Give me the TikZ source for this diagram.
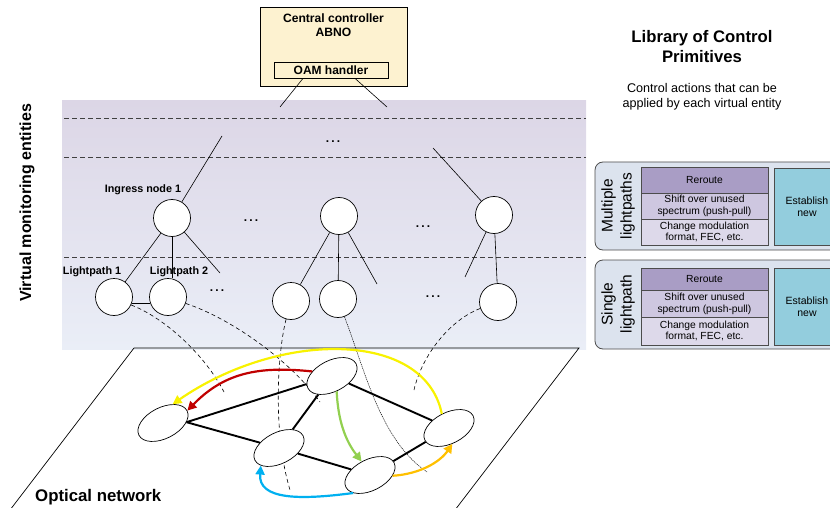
\documentclass[tikz,border=0pt]{standalone}
\usepackage{fontspec}
\setmainfont{Liberation Sans}
\usetikzlibrary{shapes.geometric,arrows.meta,calc}
\definecolor{ctrlfill}{HTML}{FDF2D0}
\definecolor{bandtop}{HTML}{DCD6E6}
\definecolor{bandbot}{HTML}{EAEEF7}
\definecolor{groupfill}{HTML}{DCE3EE}
\definecolor{rowA}{HTML}{A99DC5}
\definecolor{rowB}{HTML}{CEC7E0}
\definecolor{rowC}{HTML}{DDD9EA}
\definecolor{estfill}{HTML}{93CDDD}
\definecolor{flowyellow}{HTML}{F8F200}
\definecolor{flowred}{HTML}{C00000}
\definecolor{flowgreen}{HTML}{92D050}
\definecolor{flowblue}{HTML}{00B0F0}
\definecolor{floworange}{HTML}{FFC000}
\newcommand{\tridots}{.\hspace{2.2pt}.\hspace{2.2pt}.}
\tikzset{
  treenode/.style={circle, draw, fill=white, minimum size=37pt, inner sep=0pt, line width=0.7pt},
  netnode/.style={ellipse, draw, fill=white, minimum width=54pt, minimum height=31pt, inner sep=0pt, rotate=27, line width=0.7pt},
  treeline/.style={line width=0.6pt},
  hdash/.style={draw=black!75, line width=0.8pt, dash pattern=on 5pt off 3pt},
  vdash/.style={line width=0.6pt, dash pattern=on 4pt off 3pt},
  finedash/.style={line width=0.5pt, dash pattern=on 1.2pt off 0.8pt},
  netlink/.style={line width=1.9pt},
  flow/.style={line width=2.2pt, -{Triangle[length=9pt,width=9pt]}},
  lbl/.style={font=\bfseries\fontsize{10.8}{12}\selectfont, inner sep=0pt},
  dotstxt/.style={font=\bfseries\fontsize{12}{13}\selectfont, inner sep=0pt},
  groupbox/.style={draw=black!70, fill=groupfill, rounded corners=8pt, line width=0.8pt},
  rowbox/.style={draw=black!70, line width=0.6pt, minimum width=127pt, inner sep=0pt, align=center, font=\fontsize{10.3}{11.8}\selectfont},
  estbox/.style={draw=black!70, fill=estfill, line width=0.6pt, minimum width=66pt, inner sep=0pt, align=center, font=\fontsize{10.5}{12}\selectfont},
  grouplbl/.style={rotate=90, align=center, font=\fontsize{15.5}{19}\selectfont, inner sep=0pt}
}
\begin{document}
\begin{tikzpicture}[x=1pt,y=-1pt]
\path[use as bounding box] (0,0) rectangle (830,508);
\clip (0,0) rectangle (830,508);

% band of virtual monitoring entities
\path[top color=bandtop, bottom color=bandbot] (62,101) rectangle (586,349);
\foreach \yy in {118,157,257} \draw[hdash] (64,\yy) -- (586,\yy);

% central controller
\node[draw, fill=ctrlfill, minimum width=147pt, minimum height=79pt, inner sep=0pt, line width=0.8pt] (ctrl) at (333.5,47) {};
\node[font=\bfseries\fontsize{12.1}{14.5}\selectfont, align=center, inner sep=0pt] (ctrltxt) at (333.5,25) {Central controller\\ABNO};
\node[draw, fill=ctrlfill, minimum width=114pt, minimum height=16pt, inner sep=0pt, line width=0.8pt, font=\bfseries\fontsize{12}{13}\selectfont] (oam) at (331,70) {OAM handler};
\coordinate (oamL) at (280,107);
\coordinate (oamR) at (387,107);
\draw[treeline] ($(oam.south)+(-28,0)$) -- (oamL);
\draw[treeline] ($(oam.south)+(24,0)$) -- (oamR);

% tree nodes
\node[treenode] (ing) at (172,218) {};
\node[treenode] (mid) at (339,216) {};
\node[treenode] (rgt) at (494,215) {};
\node[treenode] (lp1) at (114,297) {};
\node[treenode] (lp2) at (168,297) {};
\node[treenode] (lpa) at (291,301) {};
\node[treenode] (lpb) at (338,299) {};
\node[treenode] (lpc) at (498,302) {};

\coordinate (ingup) at (222,136);
\coordinate (ingfree) at (220,273);
\coordinate (midfree) at (377,284);
\coordinate (rgtup) at (433,148);
\coordinate (rgtfree) at (465,277);
\draw[treeline] (ing) -- (ingup);
\draw[treeline] (ing) -- (lp1);
\draw[treeline] (ing.south) -- (ing.south |- lp2.north);
\draw[treeline] (ing) -- (ingfree);
\draw[treeline] (lp1.-20) -- (lp2.200);
\draw[treeline] (mid) -- (lpa);
\draw[treeline] (mid) -- (lpb);
\draw[treeline] (mid) -- (midfree);
\draw[treeline] (rgt) -- (rgtup);
\draw[treeline] (rgt) -- (rgtfree);
\draw[treeline] (rgt) -- (lpc);

% labels in band
\node[lbl] (inglbl) at (143,190) {Ingress node 1};
\node[lbl] (lp1lbl) at (92,272) {Lightpath 1};
\node[lbl] (lp2lbl) at (179,272) {Lightpath 2};
\node[dotstxt] (dA) at (333,142) {\tridots};
\node[dotstxt] (dB) at (251,221) {\tridots};
\node[dotstxt] (dC) at (423,227) {\tridots};
\node[dotstxt] (dD) at (217,291) {\tridots};
\node[dotstxt] (dE) at (433,297) {\tridots};

% optical network plane
\draw[line width=0.7pt] (10,510) -- (134,348) -- (579,348) -- (455,510);

% mapping curves
\coordinate (e1) at (224,392);
\coordinate (e2) at (320,402);
\coordinate (e3) at (290,490);
\coordinate (e4) at (427,472);
\coordinate (e5) at (414,390);
\draw[vdash] (lp1.-25) .. controls (165,318) and (205,355) .. (e1);
\draw[vdash] (lp2.-20) .. controls (230,318) and (290,360) .. (e2);
\draw[vdash] (lpa.-105) .. controls (278,350) and (272,430) .. (e3);
\draw[finedash] (lpb.-70) .. controls (365,370) and (380,440) .. (e4);
\draw[vdash] (lpc.200) .. controls (450,320) and (422,355) .. (e5);

% network nodes
\node[netnode] (n1) at (163,423) {};
\node[netnode] (n2) at (332,376) {};
\node[netnode] (n3) at (279,448) {};
\node[netnode] (n4) at (370,475) {};
\node[netnode] (n5) at (449,428) {};

\draw[netlink] (n1.-25) -- (n2);
\draw[netlink] (n1.-25) -- (n3);
\draw[netlink] (n2) -- (n3);
\draw[netlink] (n2) -- (n5);
\draw[netlink] (n3) -- (n4);
\draw[netlink] (n4) -- (n5);

% flows
\draw[flow, flowyellow] (n5.north) .. controls (425,330) and (280,330) .. (n1.36);
\draw[flow, flowred] (n2.140) .. controls (260,366) and (225,372) .. (n1.east);
\draw[flow, flowgreen] (n2.-100) .. controls (338,420) and (345,440) .. (n4.95);
\draw[flow, flowblue] (n4.200) .. controls (300,500) and (258,500) .. (n3.197);
\draw[flow, floworange] (n4.-29) .. controls (420,474) and (440,462) .. (n5.-105);

% side labels
\node[rotate=90, font=\bfseries\fontsize{16}{18}\selectfont, inner sep=0pt] (vme) at (27,203) {Virtual monitoring entities};
\node[anchor=west, font=\bfseries\fontsize{16.8}{18}\selectfont, inner sep=0pt] (optnet) at (35,497) {Optical network};

% library panel
\node[align=center, font=\bfseries\fontsize{16.7}{20}\selectfont, inner sep=0pt] (libtitle) at (702,47) {Library of Control\\Primitives};
\node[align=center, font=\fontsize{12.6}{15}\selectfont, inner sep=0pt] (libsub) at (702,97) {Control actions that can be\\applied by each virtual entity};

% group 1
\path[groupbox] (595,162) rectangle (850,250);
\node[grouplbl] (g1lbl) at (618,206) {Multiple\\lightpaths};
\node[rowbox, fill=rowA, minimum height=26pt] (g1r1) at (704.5,180) {Reroute};
\node[rowbox, fill=rowB, minimum height=26pt] (g1r2) at (704.5,206) {Shift over unused\\spectrum (push-pull)};
\node[rowbox, fill=rowC, minimum height=26pt] (g1r3) at (704.5,232) {Change modulation\\format, FEC, etc.};
\node[estbox, minimum height=77pt] (g1est) at (807,206.5) {Establish\\new};

% group 2
\path[groupbox] (595,260) rectangle (850,349);
\node[grouplbl] (g2lbl) at (618,304) {Single\\lightpath};
\node[rowbox, fill=rowA, minimum height=22pt] (g2r1) at (704.5,279) {Reroute};
\node[rowbox, fill=rowB, minimum height=27pt] (g2r2) at (704.5,303.5) {Shift over unused\\spectrum (push-pull)};
\node[rowbox, fill=rowC, minimum height=28pt] (g2r3) at (704.5,331) {Change modulation\\format, FEC, etc.};
\node[estbox, minimum height=77pt] (g2est) at (807,306.5) {Establish\\new};
\end{tikzpicture}
\end{document}
